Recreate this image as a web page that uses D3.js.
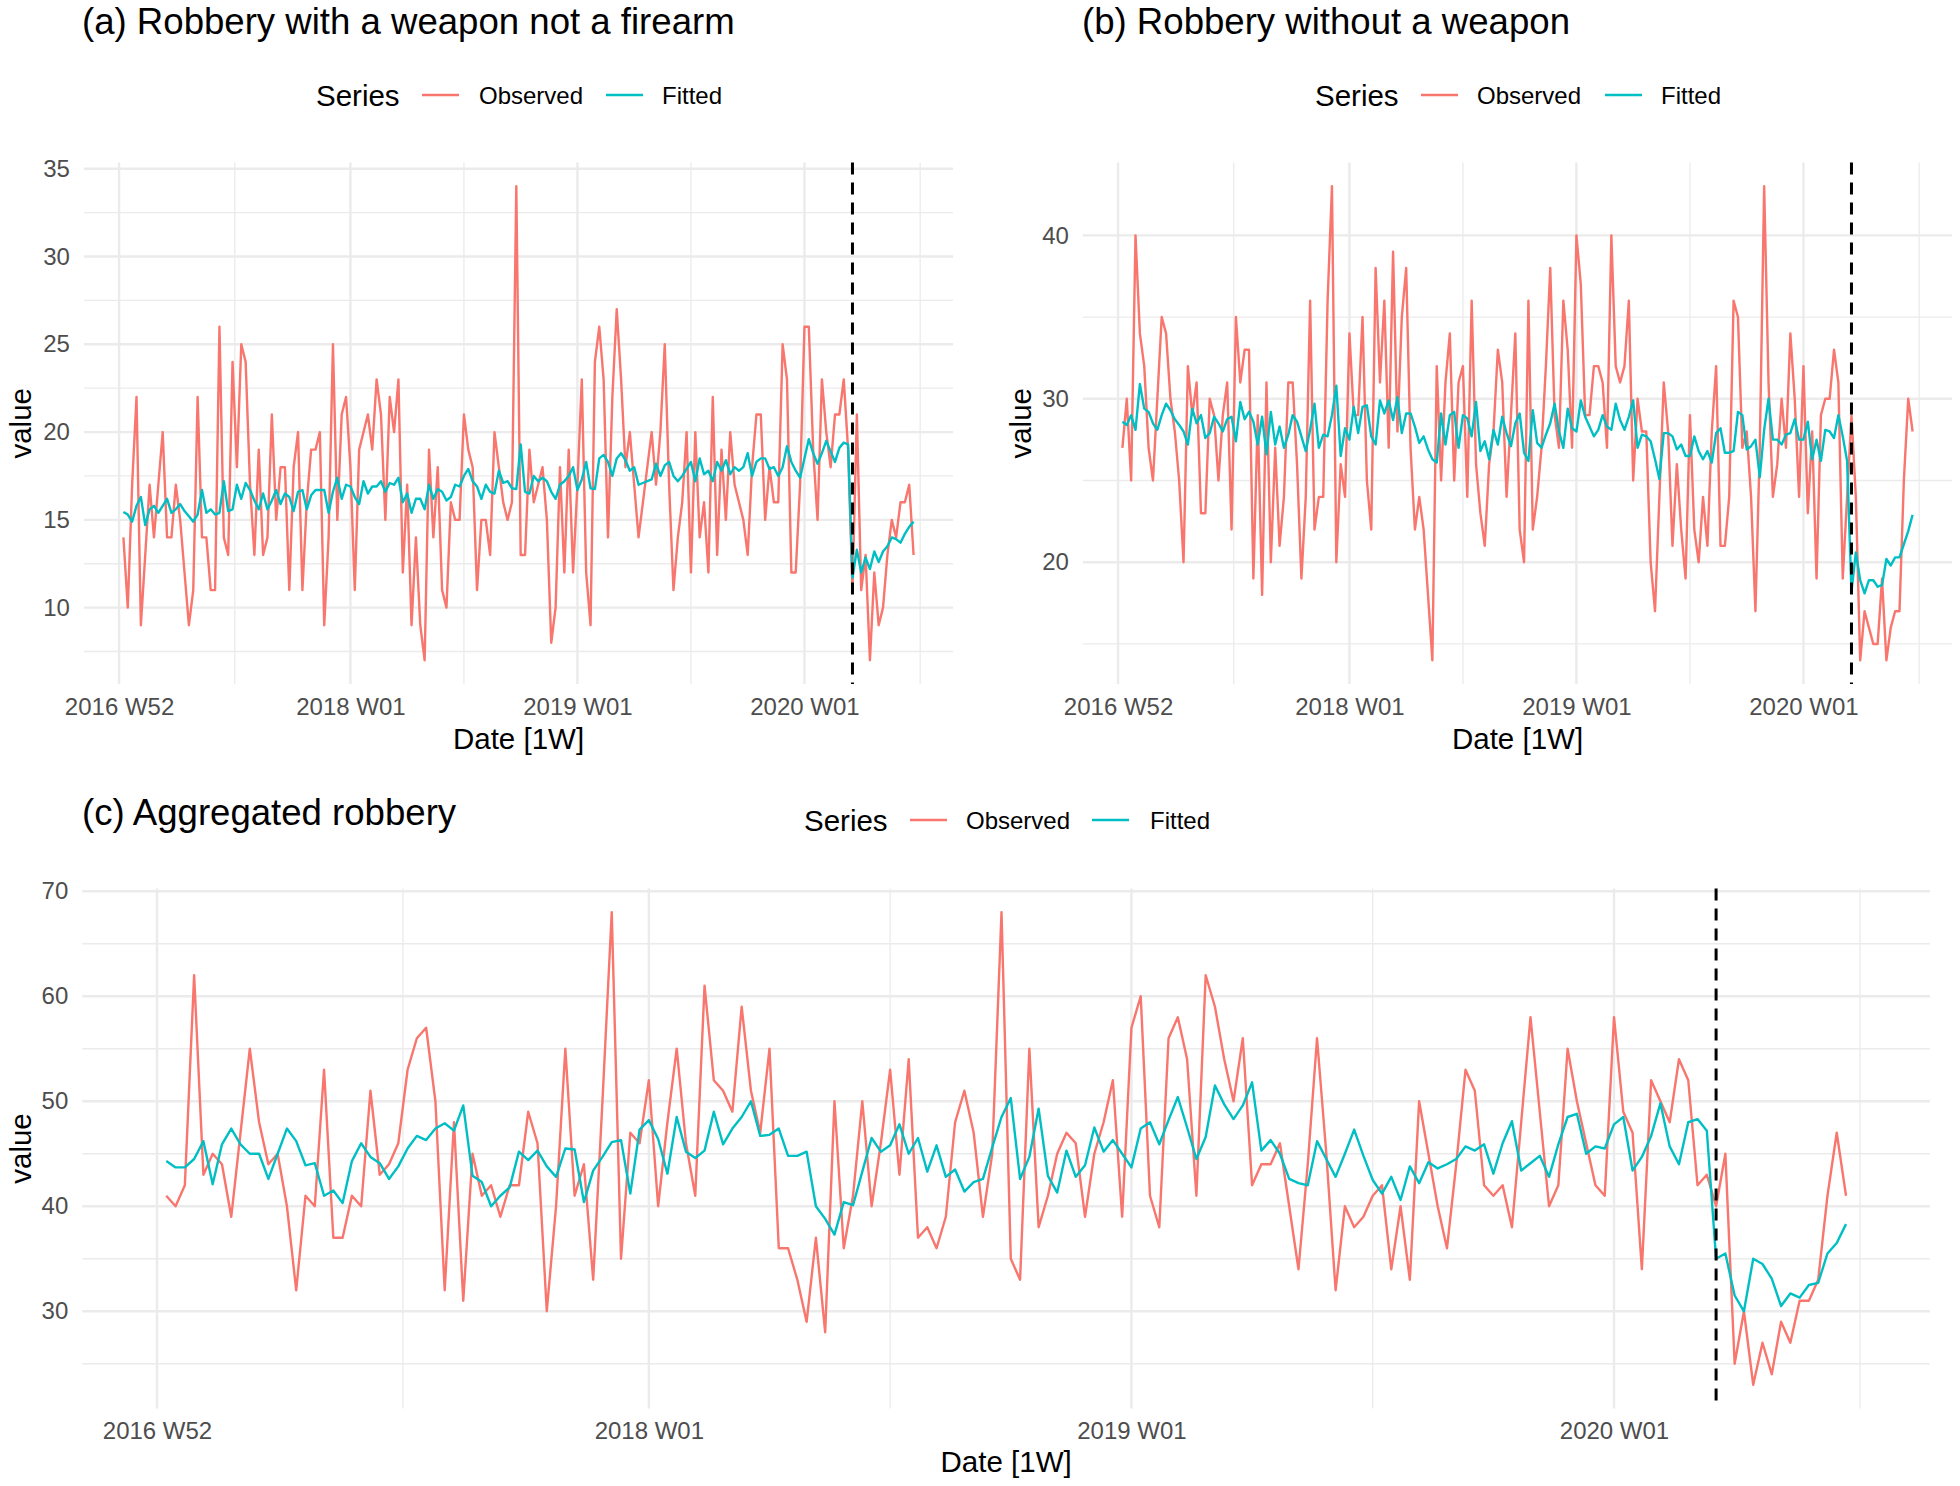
<!DOCTYPE html>
<html><head><meta charset="utf-8">
<script src="https://cdn.jsdelivr.net/npm/d3@7"></script>
<style>
body{margin:0;background:#fff}
svg text{font-family:"Liberation Sans",Arial,Helvetica,sans-serif}
</style>
</head><body>
<svg id="chart" width="1960" height="1486"></svg>
<script>
// week index 1 = 2017 W01 ... 182 = 2020 W26 ; 0 = 2016 W52
const weeks = d3.range(1, 183);
const tickWeeks = [0, 53, 105, 157];
const tickLabels = ["2016 W52", "2018 W01", "2019 W01", "2020 W01"];
const minorWeeks = [26.5, 79, 131, 183.5];
const interventionWeek = 168;
const seriesNames = ["Observed", "Fitted"];
const seriesColors = ["#F8766D", "#00BFC4"];

const weaponObserved = [
14,10,17,22,9,13,17,14,17,20, 14,14,17,15,12,9,11,22,14,14,
11,11,26,14,13,24,18,25,24,17, 13,19,13,14,21,15,18,18,11,18,
20,11,16,19,19,20,9,14,25,15, 21,22,18,11,19,20,21,19,23,21,
15,22,20,23,12,17,9,14,9,7, 19,14,18,11,10,16,15,15,21,19,
18,11,15,15,13,20,18,16,15,16, 34,13,13,19,16,17,18,15,8,10,
18,12,19,12,17,23,12,9,24,26, 23,14,22,27,23,18,20,17,14,16,
18,20,17,20,25,17,11,14,16,20, 12,20,14,16,12,22,13,19,15,20,
17,16,15,13,18,21,21,15,18,16, 16,25,23,12,12,17,26,26,19,15,
23,20,18,21,21,23,19,11,21,11, 13,7,12,9,10,13,15,14,16,16,
17,13];
const weaponFitted = [
15.45,15.3,14.9,15.8,16.3,14.7,15.6,15.8,15.4,15.8, 16.2,15.4,15.6,15.9,15.5,15.2,14.9,15.3,16.7,15.4,
15.6,15.3,15.4,17.2,15.5,15.6,17.0,16.2,17.1,16.7, 16.1,15.6,16.5,15.6,16.1,16.7,15.9,16.5,16.3,15.5,
16.6,16.7,15.6,16.4,16.7,16.7,16.7,15.4,16.6,17.4, 16.2,17.0,16.9,16.3,15.9,17.2,16.5,16.9,16.9,17.2,
16.6,17.1,17.0,17.4,16.0,16.5,15.4,16.2,16.2,15.6, 17.0,16.2,16.75,16.6,16.1,16.3,17.0,16.9,17.5,17.9,
17.2,16.9,16.2,17.0,16.6,16.5,17.8,17.1,17.2,16.8, 16.75,19.3,16.6,16.5,17.5,17.2,17.4,17.2,16.6,16.2,
17.0,17.2,17.5,18.0,16.7,17.3,18.3,16.8,16.75,18.5, 18.7,18.3,17.5,18.5,18.8,18.4,17.8,18.0,17.0,17.1,
17.2,17.3,18.2,17.5,18.1,18.3,17.5,17.2,17.5,17.9, 18.3,17.2,18.5,17.6,17.8,17.2,18.3,17.8,18.4,17.6,
18.0,17.8,18.0,18.8,17.5,18.3,18.5,18.5,17.9,18.0, 17.5,18.0,19.2,18.3,17.8,17.4,18.5,19.6,18.8,18.2,
18.8,19.5,18.9,18.3,19.1,19.4,19.3,11.7,13.3,12.0, 12.85,12.2,13.2,12.6,13.2,13.5,14.0,13.9,13.7,14.2,
14.6,14.9];

const noWeaponObserved = [
27,30,25,40,34,32,27,25,30,35, 34,30,28,25,20,32,29,31,23,23,
30,29,25,29,31,22,35,31,33,33, 19,29,18,31,20,27,21,24,31,31,
26,19,24,36,22,24,24,36,43,20, 26,24,34,29,29,35,25,22,38,31,
36,27,39,28,35,38,27,22,24,22, 18,14,32,25,31,34,25,31,32,24,
36,26,23,21,26,28,33,31,24,29, 34,22,20,36,22,24,27,32,38,29,
27,36,33,27,40,37,29,29,32,32, 31,27,40,32,31,32,36,25,30,28,
28,20,17,24,31,28,21,26,22,19, 29,22,20,24,21,28,32,21,21,24,
36,35,27,28,24,17,27,43,31,24, 26,30,27,34,30,24,32,23,28,19,
29,30,30,33,31,19,24,29,24,14, 17,16,15,15,19,14,16,17,17,25,
30,28];
const noWeaponFitted = [
28.6,28.4,29.0,28.1,30.9,29.4,29.2,28.5,28.1,29.0, 29.7,29.3,28.75,28.4,28.0,27.2,29.4,28.5,29.0,27.6,
27.9,28.9,28.5,28.0,28.75,28.9,27.4,29.8,28.75,29.2, 28.6,27.2,28.9,26.6,29.2,27.2,28.3,27.0,27.8,29.0,
28.6,27.7,26.8,28.1,29.7,27.0,27.8,27.7,29.0,30.8, 26.5,28.2,27.5,29.5,27.9,29.5,29.6,27.7,27.2,29.9,
29.1,29.9,28.7,30.1,27.9,29.1,29.1,28.3,27.3,27.7, 26.9,26.3,26.1,29.1,27.2,29.0,29.2,27.0,29.0,28.8,
27.7,29.8,26.8,27.4,26.3,28.1,27.2,28.9,27.9,27.1, 28.5,29.1,26.7,26.2,29.3,27.3,27.0,27.8,28.5,29.7,
28.0,27.0,29.4,28.2,28.0,29.9,28.9,28.3,27.7,28.1, 29.0,28.3,28.1,29.7,28.7,28.1,28.9,29.9,27.0,27.8,
27.7,27.4,26.3,25.1,27.9,27.9,27.7,26.9,27.2,26.5, 26.5,27.7,26.8,26.3,26.8,26.1,27.9,28.2,26.7,26.7,
26.8,29.2,29.0,26.9,27.1,27.5,25.2,28.1,30.0,27.5, 27.5,27.2,27.8,27.9,28.75,27.5,27.5,28.6,26.3,27.5,
26.2,28.1,28.0,27.6,29.0,27.7,26.2,18.2,20.6,18.9, 18.1,18.9,18.9,18.5,18.6,20.2,19.8,20.3,20.3,21.1,
21.9,22.9];

const aggObserved = [
41,40,42,62,43,45,44,39,47,55, 48,44,45,40,32,41,40,53,37,37,
41,40,51,43,44,46,53,56,57,50, 32,48,31,45,41,42,39,42,42,49,
46,30,40,55,41,44,33,50,68,35, 47,46,52,40,48,55,46,41,61,52,
51,49,59,51,47,55,36,36,33,29, 37,28,50,36,41,50,40,46,53,43,
54,37,38,36,39,48,51,47,39,45, 68,35,33,55,38,41,45,47,46,39,
45,48,52,39,57,60,41,38,56,58, 54,41,62,59,54,50,56,42,44,44,
46,40,34,44,56,45,32,40,38,39, 41,42,34,40,33,50,45,40,36,44,
53,51,42,41,42,38,48,58,49,40, 42,55,50,46,42,41,58,49,47,34,
52,50,48,54,52,42,43,40,45,25, 30,23,27,24,29,27,31,31,33,41,
47,41];
const aggFitted = [
44.3,43.7,43.7,44.5,46.2,42.1,45.9,47.4,45.9,45.0, 45.0,42.6,45.0,47.4,46.2,43.9,44.1,41.0,41.5,40.3,
44.3,46.0,44.7,44.1,42.6,43.8,45.5,46.7,46.3,47.4, 47.9,47.2,49.6,42.9,42.3,40.0,41.0,41.8,45.2,44.4,
45.3,43.8,42.8,45.5,45.4,40.4,43.4,44.7,46.1,46.3, 41.2,47.3,48.2,46.4,43.1,48.5,45.2,44.6,45.3,49.0,
45.9,47.4,48.5,50.0,46.7,46.8,47.4,44.8,44.8,45.2, 40.0,38.8,37.3,40.4,40.1,43.3,46.5,45.2,45.8,47.8,
45.0,46.5,43.3,45.8,42.8,43.5,41.4,42.3,42.6,45.6, 48.5,50.3,42.6,44.7,49.3,42.9,41.3,45.3,42.8,43.9,
47.5,45.2,46.3,45.0,43.7,47.4,48.0,45.9,48.2,50.4, 47.5,44.5,46.6,51.5,49.7,48.3,49.6,51.8,45.3,46.3,
45.0,42.6,42.2,42.0,46.2,44.5,42.8,45.0,47.3,44.8, 42.5,41.2,42.8,40.6,43.8,42.2,44.2,43.6,44.0,44.5,
45.7,45.3,45.9,43.1,46.0,48.1,43.4,44.1,44.8,42.8, 45.9,48.5,48.8,45.0,45.7,45.5,47.8,48.5,43.4,44.7,
46.7,49.8,45.7,44.0,48.0,48.3,47.2,35.0,35.5,31.5, 30.0,35.0,34.5,33.1,30.5,31.7,31.3,32.5,32.7,35.5,
36.5,38.3];

const yTicksA = [10, 15, 20, 25, 30, 35];
const yTicksB = [20, 30, 40];
const yTicksC = [30, 40, 50, 60, 70];

// ---------- layout ----------
const panels = [
  {title: "(a) Robbery with a weapon not a firearm", obs: weaponObserved, fit: weaponFitted,
   yTicks: yTicksA, yStep: 5,
   left: 83.9, right: 953.1, top: 162.6, bottom: 684,
   titleX: 82, titleY: 34, yTitleX: 31, xTitleY: 749,
   legend: {y: 95, series: 316, k1: 422, t1: 479, k2: 606, t2: 662}},
  {title: "(b) Robbery without a weapon", obs: noWeaponObserved, fit: noWeaponFitted,
   yTicks: yTicksB, yStep: 10,
   left: 1082.9, right: 1952.1, top: 162.6, bottom: 684,
   titleX: 1082, titleY: 34, yTitleX: 1031, xTitleY: 749,
   legend: {y: 95, series: 1315, k1: 1421, t1: 1477, k2: 1605, t2: 1661}},
  {title: "(c) Aggregated robbery", obs: aggObserved, fit: aggFitted,
   yTicks: yTicksC, yStep: 10,
   left: 82.3, right: 1930, top: 888.6, bottom: 1408.4,
   titleX: 82, titleY: 825, yTitleX: 31, xTitleY: 1472,
   legend: {y: 820, series: 804, k1: 910, t1: 966, k2: 1092, t2: 1150}}
];

const svg = d3.select("#chart");
svg.append("rect").attr("width", 1960).attr("height", 1486).attr("fill", "#fff");

const grid = "#EBEBEB";
const axisCol = "#4D4D4D";

panels.forEach(p => {
  const g = svg.append("g");
  const ext = d3.extent(weeks);
  const xpad = (ext[1] - ext[0]) * 0.05;
  const x = d3.scaleLinear().domain([ext[0] - xpad, ext[1] + xpad]).range([p.left, p.right]);
  const yext = d3.extent(p.obs.concat(p.fit));
  const ypad = (yext[1] - yext[0]) * 0.05;
  const y = d3.scaleLinear().domain([yext[0] - ypad, yext[1] + ypad]).range([p.bottom, p.top]);

  // minor grid
  const yMinor = p.yTicks.map(v => v - p.yStep / 2).concat([p.yTicks[p.yTicks.length - 1] + p.yStep / 2])
    .filter(v => v >= y.domain()[0] && v <= y.domain()[1]);
  g.selectAll(null).data(yMinor).enter().append("line")
    .attr("x1", p.left).attr("x2", p.right).attr("y1", d => y(d)).attr("y2", d => y(d))
    .attr("stroke", grid).attr("stroke-width", 1.3);
  g.selectAll(null).data(minorWeeks.filter(v => v <= x.domain()[1])).enter().append("line")
    .attr("y1", p.top).attr("y2", p.bottom).attr("x1", d => x(d)).attr("x2", d => x(d))
    .attr("stroke", grid).attr("stroke-width", 1.3);
  // major grid
  g.selectAll(null).data(p.yTicks).enter().append("line")
    .attr("x1", p.left).attr("x2", p.right).attr("y1", d => y(d)).attr("y2", d => y(d))
    .attr("stroke", grid).attr("stroke-width", 2.4);
  g.selectAll(null).data(tickWeeks).enter().append("line")
    .attr("y1", p.top).attr("y2", p.bottom).attr("x1", d => x(d)).attr("x2", d => x(d))
    .attr("stroke", grid).attr("stroke-width", 2.4);

  // axes
  const xAxis = d3.axisBottom(x).tickValues(tickWeeks).tickFormat((d, i) => tickLabels[i])
    .tickSize(0).tickPadding(13.5);
  const gx = g.append("g").attr("transform", `translate(0,${p.bottom})`).call(xAxis);
  gx.select(".domain").remove();
  gx.selectAll("text").attr("font-size", 24).attr("fill", axisCol)
    .style("font-family", '"Liberation Sans",Arial,sans-serif');

  const yAxis = d3.axisLeft(y).tickValues(p.yTicks).tickSize(0).tickPadding(14);
  const gy = g.append("g").attr("transform", `translate(${p.left},0)`).call(yAxis);
  gy.select(".domain").remove();
  gy.selectAll("text").attr("font-size", 24).attr("fill", axisCol)
    .style("font-family", '"Liberation Sans",Arial,sans-serif');

  // series lines
  [p.obs, p.fit].forEach((vals, si) => {
    const line = d3.line().x((d, i) => x(weeks[i])).y(d => y(d));
    g.append("path").datum(vals).attr("d", line).attr("fill", "none")
      .attr("stroke", seriesColors[si]).attr("stroke-width", 2.4)
      .attr("stroke-linejoin", "round").attr("stroke-linecap", "butt");
  });

  // intervention line
  g.append("line").attr("x1", x(interventionWeek)).attr("x2", x(interventionWeek))
    .attr("y1", p.top).attr("y2", p.bottom)
    .attr("stroke", "#000").attr("stroke-width", 3).attr("stroke-dasharray", "12,8");

  // titles
  g.append("text").attr("x", p.titleX).attr("y", p.titleY).attr("font-size", 36.6)
    .attr("fill", "#000").text(p.title);
  g.append("text").attr("x", (p.left + p.right) / 2).attr("y", p.xTitleY)
    .attr("text-anchor", "middle").attr("font-size", 29.5).attr("fill", "#000").text("Date [1W]");
  g.append("text").attr("transform", `translate(${p.yTitleX},${(p.top + p.bottom) / 2}) rotate(-90)`)
    .attr("text-anchor", "middle").attr("font-size", 29.5).attr("fill", "#000").text("value");

  // legend
  const L = p.legend;
  g.append("text").attr("x", L.series).attr("y", L.y + 10.5).attr("font-size", 29.5)
    .attr("fill", "#000").text("Series");
  [[L.k1, L.t1], [L.k2, L.t2]].forEach((kt, si) => {
    g.append("line").attr("x1", kt[0]).attr("x2", kt[0] + 37).attr("y1", L.y).attr("y2", L.y)
      .attr("stroke", seriesColors[si]).attr("stroke-width", 2.6);
    g.append("text").attr("x", kt[1]).attr("y", L.y + 8.5).attr("font-size", 24)
      .attr("fill", "#000").text(seriesNames[si]);
  });
});
</script>
</body></html>
